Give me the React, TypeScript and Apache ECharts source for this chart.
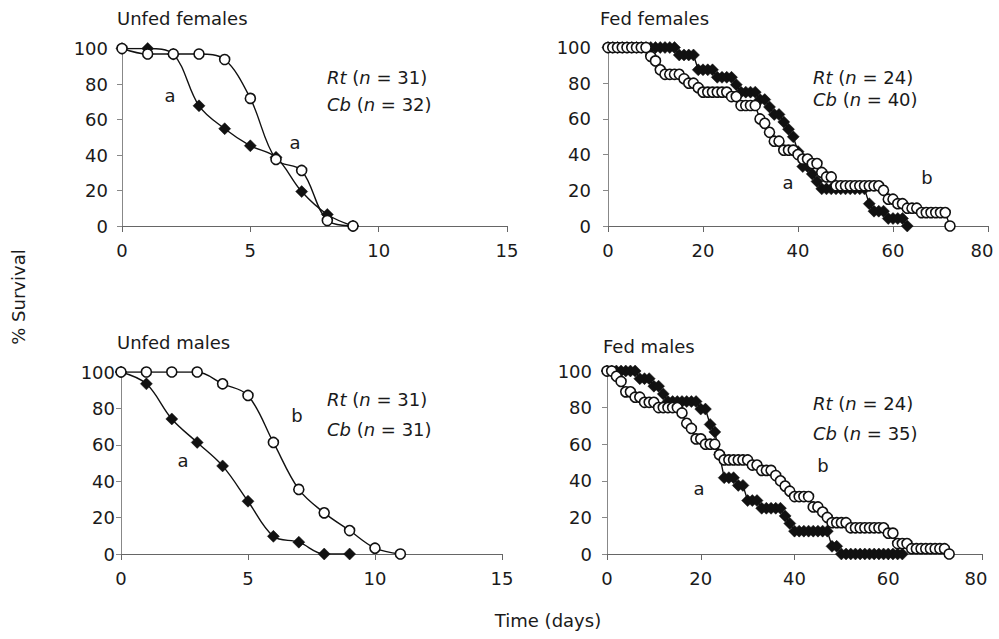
import React, { useEffect, useRef } from "react";
import * as echarts from "echarts";

// ---- Data (percent survival by day) ----
const unfedDaysFem = [0, 1, 2, 3, 4, 5, 6, 7, 8, 9];
const unfedFemRt = [100, 100, 96.8, 67.7, 54.8, 45.2, 38.7, 19.4, 6.5, 0];
const unfedFemCb = [100, 96.9, 96.9, 96.9, 93.8, 71.9, 37.5, 31.3, 3.1, 0];

const unfedDaysMaleRt = [0, 1, 2, 3, 4, 5, 6, 7, 8, 9];
const unfedMaleRt = [100, 93.5, 74.2, 61.3, 48.4, 29.0, 9.7, 6.5, 0, 0];
const unfedDaysMaleCb = [0, 1, 2, 3, 4, 5, 6, 7, 8, 9, 10, 11];
const unfedMaleCb = [100, 100, 100, 100, 93.5, 87.1, 61.3, 35.5, 22.6, 12.9, 3.2, 0];

// fed series: one value per day starting at day 0
const fedFemRt = [
  100, 100, 100, 100, 100, 100, 100, 100, 100, 100, 100, 100, 100, 100, 100,
  95.8, 95.8, 95.8, 95.8, 87.5, 87.5, 87.5, 87.5, 83.3, 83.3, 83.3, 83.3,
  79.2, 75, 75, 75, 75, 70.8, 70.8, 66.7, 62.5, 62.5, 58.3, 54.2, 50, 41.7,
  33.3, 33.3, 29.2, 25, 20.8, 20.8, 20.8, 20.8, 20.8, 20.8, 20.8, 20.8, 20.8,
  20.8, 12.5, 8.3, 8.3, 8.3, 4.2, 4.2, 4.2, 4.2, 0,
];
const fedFemCb = [
  100, 100, 100, 100, 100, 100, 100, 100, 100, 95, 92.5, 87.5, 85, 85, 85, 85,
  82.5, 80, 80, 77.5, 75, 75, 75, 75, 75, 75, 72.5, 72.5, 67.5, 67.5, 67.5,
  67.5, 60, 57.5, 52.5, 47.5, 47.5, 42.5, 42.5, 42.5, 40, 37.5, 37.5, 35, 35,
  30, 27.5, 27.5, 22.5, 22.5, 22.5, 22.5, 22.5, 22.5, 22.5, 22.5, 22.5, 22.5,
  20, 15, 15, 12.5, 12.5, 10, 10, 10, 7.5, 7.5, 7.5, 7.5, 7.5, 7.5, 0,
];
const fedMaleRt = [
  100, 100, 100, 100, 100, 100, 100, 95.8, 95.8, 95.8, 91.7, 91.7, 87.5, 83.3,
  83.3, 83.3, 83.3, 83.3, 83.3, 83.3, 79.2, 79.2, 70.8, 66.7, 54.2, 41.7, 41.7,
  41.7, 37.5, 37.5, 29.2, 29.2, 29.2, 25, 25, 25, 25, 25, 20.8, 16.7, 12.5,
  12.5, 12.5, 12.5, 12.5, 12.5, 12.5, 12.5, 4.2, 4.2, 0, 0, 0, 0, 0, 0, 0, 0,
  0, 0, 0, 0, 0, 0,
];
const fedMaleCb = [
  100, 100, 97.1, 94.3, 88.6, 88.6, 85.7, 85.7, 82.9, 82.9, 82.9, 80, 80, 80,
  80, 80, 77.1, 71.4, 68.6, 62.9, 62.9, 60, 60, 60, 54.3, 51.4, 51.4, 51.4,
  51.4, 51.4, 51.4, 48.6, 48.6, 45.7, 45.7, 45.7, 42.9, 40, 37.1, 34.3, 31.4,
  31.4, 31.4, 31.4, 25.7, 25.7, 22.9, 20, 17.1, 17.1, 17.1, 17.1, 14.3, 14.3,
  14.3, 14.3, 14.3, 14.3, 14.3, 14.3, 11.4, 11.4, 5.7, 5.7, 5.7, 2.9, 2.9, 2.9,
  2.9, 2.9, 2.9, 2.9, 2.9, 0,
];

const yTicks = [0, 20, 40, 60, 80, 100];

const FONT = "DejaVu Sans";
const INK = "#1a1a1a";

const pairs = (days: number[], vals: number[]) => vals.map((v, i) => [days[i], v]);
const daily = (vals: number[]) => vals.map((v, i) => [i, v]);

export default function App() {
  const ref = useRef<HTMLDivElement>(null);
  useEffect(() => {
    if (!ref.current) return;
    const chart = echarts.init(ref.current, null, { renderer: "svg" });

    const grids = [
      { left: 122, top: 48.5, width: 385, height: 177.5 },
      { left: 608, top: 47.5, width: 380, height: 178.5 },
      { left: 121, top: 372, width: 381, height: 182 },
      { left: 607, top: 371, width: 375, height: 183 },
    ];
    const yMargins = [14, 17, 6, 15];
    const xMax = [15, 80, 15, 80];
    const xInt = [5, 20, 5, 20];

    const xAxis = grids.map((_, i) => ({
      type: "value",
      gridIndex: i,
      min: 0,
      max: xMax[i],
      interval: xInt[i],
      axisLine: { show: true, lineStyle: { color: "#666", width: 1 } },
      axisTick: { show: true, inside: false, length: 6, lineStyle: { color: "#666" } },
      splitLine: { show: false },
      axisLabel: {
        color: INK,
        fontFamily: FONT,
        fontSize: 18,
        margin: 15,
        formatter: (v: number) => (v === 80 ? "{m|80}" : String(v)),
        rich: {
          m: { color: INK, fontFamily: FONT, fontSize: 18, padding: [0, 12, 0, 0] },
        },
      },
    }));
    const yAxis = grids.map((_, i) => ({
      type: "value",
      gridIndex: i,
      min: yTicks[0],
      max: yTicks[yTicks.length - 1],
      interval: 20,
      axisLine: { show: true, lineStyle: { color: "#888", width: 1 } },
      axisTick: { show: true, inside: false, length: 5, lineStyle: { color: "#888" } },
      splitLine: { show: false },
      axisLabel: { color: INK, fontFamily: FONT, fontSize: 18, margin: yMargins[i] },
    }));

    const rtSeries = (idx: number, data: number[][], smooth: boolean) => ({
      type: "line",
      xAxisIndex: idx,
      yAxisIndex: idx,
      data,
      smooth: smooth ? 0.35 : false,
      symbol: "diamond",
      symbolSize: 12,
      showAllSymbol: true,
      lineStyle: { color: "#111", width: 1.4 },
      itemStyle: { color: "#111", borderColor: "#111", borderWidth: 0.5 },
      z: 2,
    });
    const cbSeries = (idx: number, data: number[][], smooth: boolean) => ({
      type: "line",
      xAxisIndex: idx,
      yAxisIndex: idx,
      data,
      smooth: smooth ? 0.35 : false,
      symbol: "circle",
      symbolSize: 10,
      showAllSymbol: true,
      lineStyle: { color: "#111", width: 1.4 },
      itemStyle: { color: "#fff", borderColor: "#111", borderWidth: 1.6 },
      z: 3,
    });

    const t = (text: string, x: number, y: number, extra: any = {}) => ({
      type: "text",
      x,
      y,
      ...(extra.rotation !== undefined ? { rotation: extra.rotation } : {}),
      style: {
        text,
        fill: INK,
        fontFamily: FONT,
        fontSize: 18,
        align: extra.align || "left",
        verticalAlign: "middle",
        rich: {
          i: { fontFamily: FONT, fontSize: 18, fontStyle: "italic", fill: INK },
        },
      },
    });

    const graphic = [
      t("Unfed females", 117, 18),
      t("Fed females", 600, 18),
      t("Unfed males", 117, 342),
      t("Fed males", 603, 346),
      t("{i|Rt} ({i|n} = 31)", 327, 77),
      t("{i|Cb} ({i|n} = 32)", 327, 104),
      t("{i|Rt} ({i|n} = 24)", 813, 77),
      t("{i|Cb} ({i|n} = 40)", 813, 99),
      t("{i|Rt} ({i|n} = 31)", 327, 399),
      t("{i|Cb} ({i|n} = 31)", 327, 429),
      t("{i|Rt} ({i|n} = 24)", 813, 403),
      t("{i|Cb} ({i|n} = 35)", 813, 433),
      t("a", 170, 95, { align: "center" }),
      t("a", 295, 142, { align: "center" }),
      t("a", 788, 182, { align: "center" }),
      t("b", 927, 177, { align: "center" }),
      t("b", 297, 415, { align: "center" }),
      t("a", 183, 460, { align: "center" }),
      t("b", 823, 465, { align: "center" }),
      t("a", 699, 488, { align: "center" }),
      t("% Survival", 18, 297, { align: "center", rotation: Math.PI / 2 }),
      t("Time (days)", 548, 620, { align: "center" }),
    ];

    chart.setOption({
      animation: false,
      backgroundColor: "#fff",
      grid: grids,
      xAxis,
      yAxis,
      series: [
        rtSeries(0, pairs(unfedDaysFem, unfedFemRt), true),
        cbSeries(0, pairs(unfedDaysFem, unfedFemCb), true),
        rtSeries(1, daily(fedFemRt), false),
        cbSeries(1, daily(fedFemCb), false),
        rtSeries(2, pairs(unfedDaysMaleRt, unfedMaleRt), true),
        cbSeries(2, pairs(unfedDaysMaleCb, unfedMaleCb), true),
        rtSeries(3, daily(fedMaleRt), false),
        cbSeries(3, daily(fedMaleCb), false),
      ],
      graphic,
    });
    return () => chart.dispose();
  }, []);
  return (
    <div
      ref={ref}
      style={{ position: "absolute", left: 0, top: 0, width: 999, height: 639 }}
    />
  );
}
